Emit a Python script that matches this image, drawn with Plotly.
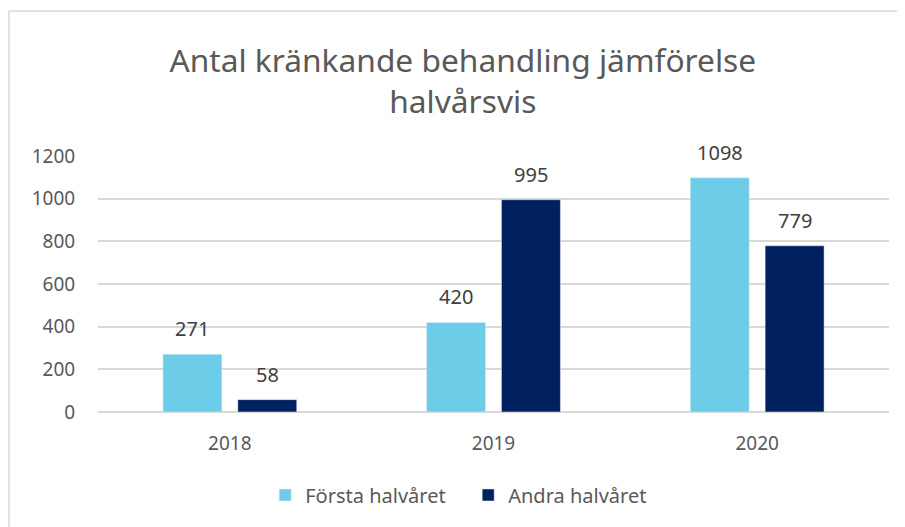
import plotly.graph_objects as go

# data
years = ["2018", "2019", "2020"]
forsta = [271, 420, 1098]
andra = [58, 995, 779]
series_names = ["Första halvåret", "Andra halvåret"]
titel = "Antal kränkande behandling jämförelse<br>halvårsvis"

ljusbla = "#6DCDE8"
morkbla = "#002060"
grafit = "#595959"
font = "Noto Sans"

fig = go.Figure()
fig.add_trace(go.Bar(x=years, y=forsta, name=series_names[0],
                     marker=dict(color=ljusbla)))
fig.add_trace(go.Bar(x=years, y=andra, name=series_names[1],
                     marker=dict(color=morkbla)))

# value labels above each bar; x given as category index so "2018" isn't read as a number
annots = []
for vals, shift in [(forsta, -37.5), (andra, 37.5)]:
    for i, v in enumerate(vals):
        annots.append(dict(x=i, y=v, text=str(v), showarrow=False,
                           xshift=shift, yshift=10, yanchor="bottom",
                           font=dict(family=font, size=20, color="#404040")))

# page body has an 8px margin, so the figure is 8px smaller than the window
fig.update_layout(
    width=897, height=519,
    margin=dict(l=90, r=16, t=148, b=115, autoexpand=False),
    paper_bgcolor="white", plot_bgcolor="white",
    barmode="group", bargap=0.432, bargroupgap=0.213,
    font=dict(family=font, size=20, color=grafit),
    title=dict(text=titel, x=0.507, xanchor="center", y=0.877, yanchor="middle",
               font=dict(family=font, size=31.7, color=grafit)),
    legend=dict(orientation="h", x=0.468, xanchor="center", y=-0.324, yanchor="middle",
                font=dict(family=font, size=20, color=grafit),
                entrywidth=158, traceorder="normal"),
    annotations=annots,
    shapes=[dict(type="rect", xref="paper", yref="paper",
                 x0=-0.1125, x1=1.2, y0=-0.6, y1=1.566,
                 line=dict(color="#D9D9D9", width=1.5), fillcolor="rgba(0,0,0,0)")],
)
fig.update_xaxes(type="category", range=[-0.5, 2.5], showgrid=False, showline=False,
                 ticks="outside", ticklen=14, tickcolor="rgba(0,0,0,0)",
                 tickfont=dict(family=font, size=19, color=grafit))
fig.update_yaxes(range=[0, 1200], dtick=200, gridcolor="#D9D9D9", gridwidth=1.5,
                 zeroline=True, zerolinecolor="#D9D9D9", zerolinewidth=1.5,
                 showline=False, ticks="outside", ticklen=18, tickcolor="rgba(0,0,0,0)",
                 tickfont=dict(family=font, size=19, color=grafit))

fig.write_html("out.html")
